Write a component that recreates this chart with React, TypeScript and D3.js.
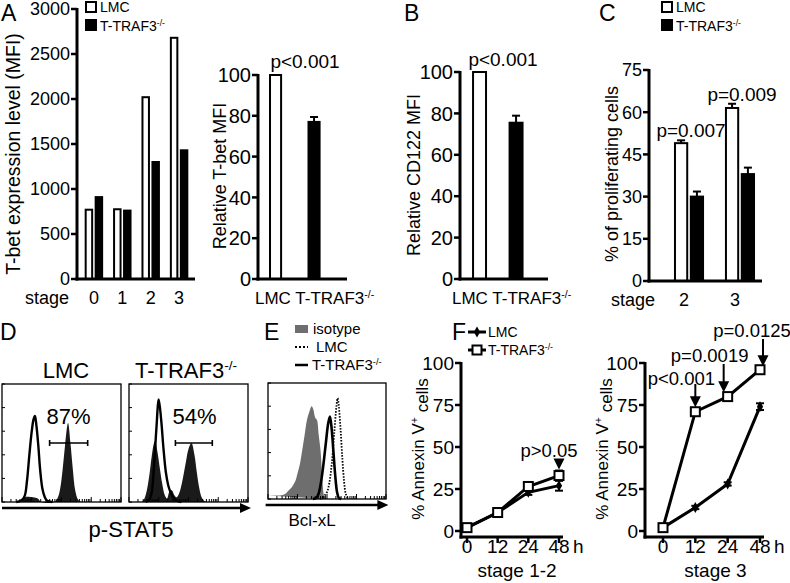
import React from 'react'
import * as d3 from 'd3'

const FONT = 'Liberation Sans, Arial, Helvetica, sans-serif'

// ---- panel A (left) : T-bet MFI by stage
const stages = ['0', '1', '2', '3']
const groups = ['LMC', 'T-TRAF3']
const tbetLmc = [770, 775, 2020, 2680]
const tbetTraf3 = [910, 760, 1300, 1430]
const tbetTicks = [0, 500, 1000, 1500, 2000, 2500, 3000]

// ---- panel A (right) and B : relative MFI
const relTicks = [0, 20, 40, 60, 80, 100]
const relTbet = [100, 77]
const relTbetErr = [0, 2.4]
const relCd122 = [100, 75.5]
const relCd122Err = [0, 3.4]

// ---- panel C : proliferation
const prolifStages = ['2', '3']
const prolifLmc = [49, 61.5]
const prolifLmcErr = [1, 1.5]
const prolifTraf3 = [30, 38]
const prolifTraf3Err = [1.8, 2.3]
const prolifP = ['p=0.007', 'p=0.009']
const prolifTicks = [0, 15, 30, 45, 60, 75]

// ---- panel D / E : flow histograms (x, y in % of the plot box)
const stat5LmcOpen = [[12, 0], [16, 1], [19, 5], [21, 18], [23, 40], [25, 60], [26.5, 70], [27.7, 73], [29, 64], [30.5, 48], [32, 28], [34, 11], [36, 4], [38, 1], [42, 0]]
const stat5LmcFill = [[17, 0], [19, 4], [26, 4], [30, 3], [33, 0], [44, 0], [47, 4], [49, 12], [51, 28], [53, 48], [55.5, 67], [57.5, 50], [59.5, 28], [61.5, 10], [64, 2], [67, 0]]
const stat5KoOpen = [[14, 0], [17, 2], [19, 8], [21, 30], [23, 62], [25, 87], [27, 70], [29, 45], [31, 25], [33, 14], [35, 8], [37, 4], [40, 1], [44, 0]]
const stat5KoFill = [[11, 0], [13, 3], [15, 10], [17, 22], [19, 38], [21, 50], [22, 52], [24, 42], [26, 28], [28, 15], [30, 6], [32, 3], [34, 9], [36, 10], [38, 6], [40, 4], [42, 7], [44, 14], [46, 24], [48, 35], [50, 45], [52.5, 50], [55, 40], [57, 25], [59, 12], [61, 4], [63, 1], [65, 0]]
const stat5Gates = [[40, 72, 50], [39, 70, 50]]
const stat5Pct = ['87%', '54%']

const bclIsotype = [[0, 3], [5, 3], [10, 3], [14, 4], [17, 7], [20, 10], [23, 15], [25, 22], [27, 30], [29, 42], [31, 55], [33, 68], [35, 75], [37, 80], [38.5, 77], [40, 70], [41.5, 68], [43, 55], [44.5, 42], [46, 18], [47, 5], [48, 0]]
const bclKo = [[38, 0], [41, 1], [43, 5], [45, 15], [47, 30], [49, 48], [51, 65], [52.5, 71], [54, 60], [55.5, 40], [57, 20], [58.5, 6], [60, 1], [62, 0]]
const bclLmc = [[44, 0], [47, 2], [50, 6], [52, 14], [54, 30], [56, 55], [58, 80], [59, 87], [60, 80], [61.5, 60], [63, 35], [64.5, 15], [66, 4], [68, 0]]

// ---- panel F : annexin V
const hours = ['0', '12', '24', '48']
const annexinTicks = [0, 25, 50, 75, 100]
const earlyLmc = [2, 11, 23, 27]
const earlyLmcErr = [0.5, 1, 1.5, 3]
const earlyTraf3 = [2, 11, 26.5, 33]
const earlyTraf3Err = [0.5, 1, 1.5, 3]
const lateLmc = [2, 14, 28, 74]
const lateLmcErr = [0.5, 1, 1, 2]
const lateTraf3 = [2, 71, 80, 96]
const lateTraf3Err = [0.5, 2, 2, 1.5]
const lateP = ['', 'p<0.001', 'p=0.0019', 'p=0.0125']

const Sup = ({ t }: { t: string }) => (
  <tspan fontSize="0.62em" dy="-0.55em">{t}</tspan>
)

function YAxis({ x, y, ticks, fs, xEnd }: any) {
  const [lo, hi] = y.domain()
  return (
    <g>
      <line x1={x} x2={x} y1={y(hi) - 1} y2={y(lo) + 1.5} stroke="#000" strokeWidth={3} />
      <line x1={x - 1.5} x2={xEnd} y1={y(lo)} y2={y(lo)} stroke="#000" strokeWidth={3} />
      {ticks.map((t: number) => (
        <g key={t}>
          <line x1={x - 6} x2={x} y1={y(t)} y2={y(t)} stroke="#000" strokeWidth={2.5} />
          <text x={x - 7} y={y(t)} dy="0.36em" textAnchor="end" fontSize={fs}>{t}</text>
        </g>
      ))}
    </g>
  )
}

function ErrBar({ cx, y, v, e }: any) {
  if (!e) return null
  return (
    <g stroke="#000" strokeWidth={2}>
      <line x1={cx} x2={cx} y1={y(v)} y2={y(v + e)} />
      <line x1={cx - 4} x2={cx + 4} y1={y(v + e)} y2={y(v + e)} />
    </g>
  )
}

function Bar({ x, w, y, v, fill }: any) {
  return <rect x={x + 1} width={w - 2} y={y(v)} height={y(0) - y(v)} fill={fill} stroke="#000" strokeWidth={2} />
}

function Histo({ x0, x1, y0, y1, curves }: any) {
  const hx = d3.scaleLinear().domain([0, 100]).range([x0, x1])
  const hy = d3.scaleLinear().domain([0, 100]).range([y1, y0])
  const lg = d3.scaleLog().domain([1, 1e4]).range([x0, x1])
  const ln = d3.line().x((d: any) => hx(d[0])).y((d: any) => hy(d[1])).curve(d3.curveCatmullRom)
  return (
    <g>
      {curves.map((c: any, i: number) => (
        <path key={i} d={ln(c.pts) || ''} fill={c.fill || 'none'} stroke={c.stroke || 'none'}
          strokeWidth={c.sw || 2} strokeDasharray={c.dash || null} />
      ))}
      <rect x={x0} y={y0} width={x1 - x0} height={y1 - y0} fill="none" stroke="#000" strokeWidth={1.3} />
      {hy.ticks(5).map(t => (
        <line key={'l' + t} x1={x0} x2={x0 + 3} y1={hy(t)} y2={hy(t)} stroke="#000" strokeWidth={1} />
      ))}
      {lg.ticks().map((t, i) => {
        const major = Math.abs(Math.log10(t) % 1) < 1e-9
        return <line key={'b' + i} x1={lg(t)} x2={lg(t)} y1={y1} y2={y1 - (major ? 5 : 3)} stroke="#000" strokeWidth={1} />
      })}
    </g>
  )
}

function ArrowAxis({ x0, x1, y }: any) {
  return (
    <g>
      <line x1={x0} x2={x1 - 8} y1={y} y2={y} stroke="#000" strokeWidth={2.5} />
      <path d={`M${x1},${y}L${x1 - 11},${y - 5}L${x1 - 11},${y + 5}Z`} fill="#000" />
    </g>
  )
}

function DownArrow({ x, top, tip }: any) {
  return (
    <g>
      <line x1={x} x2={x} y1={top} y2={tip - 8} stroke="#000" strokeWidth={2} />
      <path d={`M${x - 5.5},${tip - 11}L${x + 5.5},${tip - 11}L${x},${tip}Z`} fill="#000" />
    </g>
  )
}

function ErrBarBoth({ cx, y, v, e }: any) {
  if (!e || e < 1) return null
  return (
    <g stroke="#000" strokeWidth={2}>
      <line x1={cx} x2={cx} y1={y(v - e)} y2={y(v + e)} />
      <line x1={cx - 4} x2={cx + 4} y1={y(v + e)} y2={y(v + e)} />
      <line x1={cx - 4} x2={cx + 4} y1={y(v - e)} y2={y(v - e)} />
    </g>
  )
}

function Annexin({ yAxisX, range, lmc, lmcErr, ko, koErr, caption, arrows }: any) {
  const y = d3.scaleLinear().domain([0, 100]).range([531, 363])
  const x = d3.scalePoint().domain(hours).range(range)
  const ln = d3.line<number>().x((_, i) => x(hours[i]) as number).y(d => y(d))
  const diamond = d3.symbol().type(d3.symbolDiamond).size(34)()
  const axisY = 537
  return (
    <g>
      <line x1={yAxisX} x2={yAxisX} y1={y(100) - 1} y2={axisY + 1.5} stroke="#000" strokeWidth={3} />
      {annexinTicks.map(t => (
        <g key={t}>
          <line x1={yAxisX - 6} x2={yAxisX} y1={y(t)} y2={y(t)} stroke="#000" strokeWidth={2.5} />
          <text x={yAxisX - 7} y={y(t)} dy="0.36em" textAnchor="end" fontSize={19}>{t}</text>
        </g>
      ))}
      <line x1={yAxisX - 1.5} x2={range[1] + 4} y1={axisY} y2={axisY} stroke="#000" strokeWidth={3} />
      {hours.map(h => (
        <g key={h}>
          <line x1={x(h)} x2={x(h)} y1={axisY} y2={axisY + 6} stroke="#000" strokeWidth={2.5} />
          <text x={x(h)} y={553} textAnchor="middle" fontSize={19}>{h}</text>
        </g>
      ))}
      <text x={range[1] + 14} y={553} fontSize={19}>h</text>
      <text x={(range[0] + range[1]) / 2 + 4} y={577} textAnchor="middle" fontSize={19}>{caption}</text>
      <path d={ln(ko) || ''} fill="none" stroke="#000" strokeWidth={3} />
      <path d={ln(lmc) || ''} fill="none" stroke="#000" strokeWidth={3} />
      {hours.map((h, i) => (
        <g key={h}>
          <ErrBarBoth cx={x(h)} y={y} v={lmc[i]} e={lmcErr[i]} />
          <ErrBarBoth cx={x(h)} y={y} v={ko[i]} e={koErr[i]} />
          <path d={diamond || ''} transform={`translate(${x(h)},${y(lmc[i])})`} fill="#000" />
          <rect x={(x(h) as number) - 4.5} y={y(ko[i]) - 4.5} width={9} height={9} fill="#fff" stroke="#000" strokeWidth={2} />
        </g>
      ))}
      {arrows.map((a: any, i: number) => a ? (
        <g key={i}>
          <DownArrow x={(x(hours[a.i]) as number) + a.dx} top={a.top} tip={y(ko[a.i] + koErr[a.i]) - 1} />
          <text x={(x(hours[a.i]) as number) + a.tx} y={a.ty} textAnchor="middle" fontSize={18.5}>{a.label}</text>
        </g>
      ) : null)}
      <text transform={`translate(${yAxisX - 37},${y(50) + 2}) rotate(-90)`} textAnchor="middle" fontSize={17}>
        % Annexin V<Sup t="+" /><tspan dy="0.55em"> cells</tspan>
      </text>
    </g>
  )
}

export default function App() {
  // A left
  const yA = d3.scaleLinear().domain([0, 3000]).range([279, 9])
  const xA = d3.scaleBand().domain(stages).range([79, 194]).paddingInner(0.35).paddingOuter(0.2)
  const xAin = d3.scaleBand().domain(groups).range([0, xA.bandwidth()]).paddingInner(0.15)
  // A right
  const yR = d3.scaleLinear().domain([0, 100]).range([279, 75])
  const xR = d3.scaleBand().domain(groups).range([258, 331.6]).paddingInner(0.66).paddingOuter(0.286)
  // B
  const yB = d3.scaleLinear().domain([0, 100]).range([279, 72])
  const xB = d3.scaleBand().domain(groups).range([460, 535.6]).paddingInner(0.59).paddingOuter(0.33)
  // C
  const yC = d3.scaleLinear().domain([0, 75]).range([281, 70])
  const xC = d3.scaleBand().domain(prolifStages).range([649, 780]).paddingInner(0.41).paddingOuter(0.49)
  const xCin = d3.scaleBand().domain(groups).range([0, xC.bandwidth()]).paddingInner(0.1)

  const legend = (x: number, y: number) => (
    <g fontSize={14}>
      <rect x={x + 1} y={y + 1} width={10} height={10} fill="#fff" stroke="#000" strokeWidth={2} />
      <text x={x + 15} y={y + 11}>LMC</text>
      <rect x={x} y={y + 18} width={12} height={12} fill="#000" />
      <text x={x + 15} y={y + 30}>T-TRAF3<Sup t="-/-" /></text>
    </g>
  )

  const hxE = d3.scaleLinear().domain([0, 100]).range([268, 386])

  return (
    <div style={{ position: 'absolute', left: 0, top: 0 }}>
      <svg width={790} height={583} style={{ display: 'block', background: '#fff' }} fontFamily={FONT}>
        <rect width={790} height={583} fill="#fff" />
        {/* ---------- A left ---------- */}
        <text x={1} y={21} fontSize={23}>A</text>
        {legend(85, 1)}
        {stages.map((s, i) => (
          <g key={s}>
            <Bar x={(xA(s) as number) + (xAin('LMC') as number)} w={xAin.bandwidth()} y={yA} v={tbetLmc[i]} fill="#fff" />
            <Bar x={(xA(s) as number) + (xAin('T-TRAF3') as number)} w={xAin.bandwidth()} y={yA} v={tbetTraf3[i]} fill="#000" />
            <text x={(xA(s) as number) + xA.bandwidth() / 2} y={304} textAnchor="middle" fontSize={18}>{s}</text>
          </g>
        ))}
        <YAxis x={77} y={yA} ticks={tbetTicks} fs={18} xEnd={195} />
        <text x={25} y={304} fontSize={18}>stage</text>
        <text transform="translate(20,154) rotate(-90)" textAnchor="middle" fontSize={19.5}>T-bet expression level (MFI)</text>

        {/* ---------- A right ---------- */}
        {groups.map((g, i) => (
          <g key={g}>
            <Bar x={xR(g)} w={xR.bandwidth()} y={yR} v={relTbet[i]} fill={i ? '#000' : '#fff'} />
            <ErrBar cx={(xR(g) as number) + xR.bandwidth() / 2} y={yR} v={relTbet[i]} e={relTbetErr[i]} />
          </g>
        ))}
        <YAxis x={258} y={yR} ticks={relTicks} fs={20} xEnd={347} />
        <text x={305} y={68} textAnchor="middle" fontSize={19}>p&lt;0.001</text>
        <text x={255} y={304} fontSize={17}>LMC T-TRAF3<Sup t="-/-" /></text>
        <text transform="translate(226,176) rotate(-90)" textAnchor="middle" fontSize={18}>Relative T-bet MFI</text>

        {/* ---------- B ---------- */}
        <text x={404} y={21} fontSize={23}>B</text>
        {groups.map((g, i) => (
          <g key={g}>
            <Bar x={xB(g)} w={xB.bandwidth()} y={yB} v={relCd122[i]} fill={i ? '#000' : '#fff'} />
            <ErrBar cx={(xB(g) as number) + xB.bandwidth() / 2} y={yB} v={relCd122[i]} e={relCd122Err[i]} />
          </g>
        ))}
        <YAxis x={460} y={yB} ticks={relTicks} fs={20} xEnd={548} />
        <text x={503} y={66} textAnchor="middle" fontSize={19}>p&lt;0.001</text>
        <text x={452} y={304} fontSize={17}>LMC T-TRAF3<Sup t="-/-" /></text>
        <text transform="translate(420,175) rotate(-90)" textAnchor="middle" fontSize={18}>Relative CD122 MFI</text>

        {/* ---------- C ---------- */}
        <text x={599} y={21} fontSize={23}>C</text>
        {legend(661, 1)}
        {prolifStages.map((s, i) => {
          const gx = xC(s) as number
          const xl = gx + (xCin('LMC') as number)
          const xk = gx + (xCin('T-TRAF3') as number)
          const bw = xCin.bandwidth()
          return (
            <g key={s}>
              <Bar x={xl} w={bw} y={yC} v={prolifLmc[i]} fill="#fff" />
              <Bar x={xk} w={bw} y={yC} v={prolifTraf3[i]} fill="#000" />
              <ErrBar cx={xl + bw / 2} y={yC} v={prolifLmc[i]} e={prolifLmcErr[i]} />
              <ErrBar cx={xk + bw / 2} y={yC} v={prolifTraf3[i]} e={prolifTraf3Err[i]} />
              <text x={gx + xC.bandwidth() / 2 + 2} y={yC(prolifLmc[i] + prolifLmcErr[i]) - 3} textAnchor="middle" fontSize={19}>{prolifP[i]}</text>
              <text x={gx + xC.bandwidth() / 2 - 5} y={306} textAnchor="middle" fontSize={18}>{s}</text>
            </g>
          )
        })}
        <YAxis x={649} y={yC} ticks={prolifTicks} fs={18} xEnd={762} />
        <text x={611} y={306} fontSize={18}>stage</text>
        <text transform="translate(618,174) rotate(-90)" textAnchor="middle" fontSize={18}>% of proliferating cells</text>

        {/* ---------- D ---------- */}
        <text x={0} y={340} fontSize={23}>D</text>
        <text x={66} y={378} textAnchor="middle" fontSize={22}>LMC</text>
        <text x={186} y={378} textAnchor="middle" fontSize={22}>T-TRAF3<Sup t="-/-" /></text>
        {[[2, 121, stat5LmcOpen, stat5LmcFill], [129, 248, stat5KoOpen, stat5KoFill]].map((b: any, i) => {
          const hx = d3.scaleLinear().domain([0, 100]).range([b[0], b[1]])
          const hy = d3.scaleLinear().domain([0, 100]).range([502, 384])
          const g = stat5Gates[i]
          return (
            <g key={i}>
              <Histo x0={b[0]} x1={b[1]} y0={384} y1={502} curves={[
                { pts: b[3], fill: '#1a1a1a' },
                { pts: b[2], stroke: '#000', sw: 2.4 },
              ]} />
              <g stroke="#000" strokeWidth={1.6}>
                <line x1={hx(g[0])} x2={hx(g[1])} y1={hy(g[2])} y2={hy(g[2])} />
                <line x1={hx(g[0])} x2={hx(g[0])} y1={hy(g[2]) - 3} y2={hy(g[2]) + 3} />
                <line x1={hx(g[1])} x2={hx(g[1])} y1={hy(g[2]) - 3} y2={hy(g[2]) + 3} />
              </g>
              <text x={hx(g[0] + 16)} y={424} textAnchor="middle" fontSize={22}>{stat5Pct[i]}</text>
            </g>
          )
        })}
        <ArrowAxis x0={2} x1={251} y={508} />
        <text x={131} y={537} textAnchor="middle" fontSize={22}>p-STAT5</text>

        {/* ---------- E ---------- */}
        <text x={264} y={340} fontSize={23}>E</text>
        <g fontSize={15}>
          <rect x={295} y={325} width={13} height={8} fill="#6e6e6e" />
          <text x={313} y={334}>isotype</text>
          <line x1={295} x2={308} y1={347} y2={347} stroke="#000" strokeWidth={2} strokeDasharray="2,2" />
          <text x={316} y={352}>LMC</text>
          <line x1={295} x2={308} y1={365} y2={365} stroke="#000" strokeWidth={2.5} />
          <text x={312} y={370}>T-TRAF3<Sup t="-/-" /></text>
        </g>
        <Histo x0={268} x1={386} y0={383} y1={499} curves={[
          { pts: bclIsotype, fill: '#6e6e6e' },
          { pts: bclKo, stroke: '#000', sw: 2.6 },
          { pts: bclLmc, stroke: '#000', sw: 1.8, dash: '1.5,1.5' },
        ]} />
        <ArrowAxis x0={hxE(-2)} x1={hxE(102)} y={505} />
        <text x={312} y={526} textAnchor="middle" fontSize={17}>Bcl-xL</text>

        {/* ---------- F ---------- */}
        <text x={452} y={340} fontSize={23}>F</text>
        <g fontSize={14}>
          <line x1={468} x2={486} y1={332} y2={332} stroke="#000" strokeWidth={3} />
          <path d={d3.symbol().type(d3.symbolDiamond).size(34)() || ''} transform="translate(477,332)" fill="#000" />
          <text x={488} y={337}>LMC</text>
          <line x1={468} x2={486} y1={350} y2={350} stroke="#000" strokeWidth={3} />
          <rect x={472.5} y={345.5} width={9} height={9} fill="#fff" stroke="#000" strokeWidth={2} />
          <text x={488} y={355}>T-TRAF3<Sup t="-/-" /></text>
        </g>
        <Annexin yAxisX={461} range={[467, 559]} lmc={earlyLmc} lmcErr={earlyLmcErr} ko={earlyTraf3} koErr={earlyTraf3Err}
          caption="stage 1-2" arrows={[null, null, null, { i: 3, dx: 0, top: 462, tx: -10, ty: 457, label: 'p>0.05' }]} />
        <Annexin yAxisX={645} range={[663, 760]} lmc={lateLmc} lmcErr={lateLmcErr} ko={lateTraf3} koErr={lateTraf3Err}
          caption="stage 3" arrows={[null,
            { i: 1, dx: 0, top: 384, tx: -14, ty: 385, label: lateP[1] },
            { i: 2, dx: -4, top: 364, tx: -18, ty: 362, label: lateP[2] },
            { i: 3, dx: 3, top: 339, tx: -8, ty: 337, label: lateP[3] }]} />
      </svg>
    </div>
  )
}
